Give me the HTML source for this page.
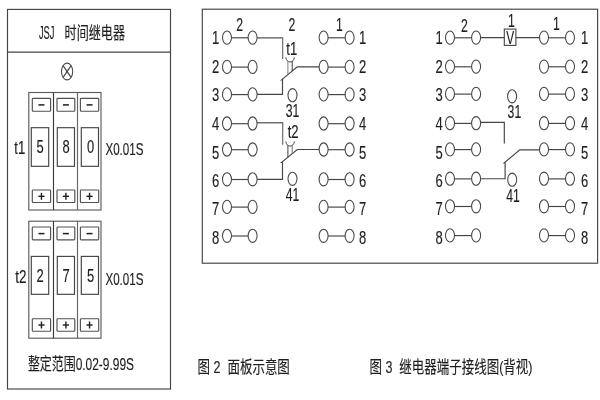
<!DOCTYPE html>
<html lang="zh-CN">
<head>
<meta charset="utf-8">
<title>JSJ 时间继电器</title>
<style>
html,body{margin:0;padding:0;background:#fff;}
body{width:600px;height:400px;overflow:hidden;}
svg{display:block;will-change:transform;}
svg text{font-family:"Liberation Sans","Noto Sans CJK SC",sans-serif;fill:#1e1e1e;stroke:#1e1e1e;stroke-width:0.15px;white-space:pre;}
</style>
</head>
<body>
<svg width="600" height="400" viewBox="0 0 600 400" role="img" aria-label="JSJ 时间继电器 面板示意图 / 继电器端子接线图">
<rect x="0" y="0" width="600" height="400" fill="#fff"/>
<rect x="7.5" y="9.4" width="163" height="379.6" fill="none" stroke="#444" stroke-width="1.15"/>
<line x1="7.5" y1="52.1" x2="170.5" y2="52.1" stroke="#444" stroke-width="1.15"/>
<text transform="translate(38.9 38.8) scale(0.535 1)" font-size="17.5">JSJ</text>
<text transform="translate(64.6 39.2) scale(0.733 1)" font-size="16.5">时间继电器</text>
<ellipse cx="67.1" cy="71.5" rx="5.6" ry="8.4" fill="#fff" stroke="#484848" stroke-width="1.08"/>
<line x1="63.1" y1="65.6" x2="71.1" y2="77.4" stroke="#444" stroke-width="1.15"/>
<line x1="71.1" y1="65.6" x2="63.1" y2="77.4" stroke="#444" stroke-width="1.15"/>
<rect x="28.8" y="92.5" width="72.2" height="117.5" fill="none" stroke="#5c5c5c" stroke-width="1.15"/>
<line x1="53.5" y1="92.5" x2="53.5" y2="210" stroke="#3a3a3a" stroke-width="1.15"/>
<line x1="77.5" y1="92.5" x2="77.5" y2="210" stroke="#666" stroke-width="1.15"/>
<rect x="32.3" y="98.3" width="18.3" height="12.9" rx="0.8" fill="none" stroke="#505050" stroke-width="1.15"/>
<line x1="38.45" y1="104.9" x2="44.45" y2="104.9" stroke="#1e1e1e" stroke-width="1.5"/>
<rect x="31.3" y="127.7" width="17.4" height="38.6" fill="none" stroke="#444" stroke-width="1.15"/>
<text transform="translate(40.2 153.3) scale(0.72 1)" font-size="18" text-anchor="middle">5</text>
<rect x="32.3" y="190" width="18.3" height="12.5" rx="0.8" fill="none" stroke="#505050" stroke-width="1.15"/>
<line x1="38.35" y1="196.3" x2="44.55" y2="196.3" stroke="#1e1e1e" stroke-width="1.4"/>
<line x1="41.45" y1="192.8" x2="41.45" y2="199.8" stroke="#1e1e1e" stroke-width="1.4"/>
<rect x="57" y="98.3" width="17.8" height="12.9" rx="0.8" fill="none" stroke="#505050" stroke-width="1.15"/>
<line x1="62.9" y1="104.9" x2="68.9" y2="104.9" stroke="#1e1e1e" stroke-width="1.5"/>
<rect x="57.3" y="127.7" width="17.2" height="38.6" fill="none" stroke="#444" stroke-width="1.15"/>
<text transform="translate(66.1 153.3) scale(0.72 1)" font-size="18" text-anchor="middle">8</text>
<rect x="57" y="190" width="17.8" height="12.5" rx="0.8" fill="none" stroke="#505050" stroke-width="1.15"/>
<line x1="62.8" y1="196.3" x2="69" y2="196.3" stroke="#1e1e1e" stroke-width="1.4"/>
<line x1="65.9" y1="192.8" x2="65.9" y2="199.8" stroke="#1e1e1e" stroke-width="1.4"/>
<rect x="80.4" y="98.3" width="18.3" height="12.9" rx="0.8" fill="none" stroke="#505050" stroke-width="1.15"/>
<line x1="86.55" y1="104.9" x2="92.55" y2="104.9" stroke="#1e1e1e" stroke-width="1.5"/>
<rect x="81.3" y="127.7" width="17.2" height="38.6" fill="none" stroke="#444" stroke-width="1.15"/>
<text transform="translate(90.6 153.3) scale(0.72 1)" font-size="18" text-anchor="middle">0</text>
<rect x="80.4" y="190" width="18.3" height="12.5" rx="0.8" fill="none" stroke="#505050" stroke-width="1.15"/>
<line x1="86.45" y1="196.3" x2="92.65" y2="196.3" stroke="#1e1e1e" stroke-width="1.4"/>
<line x1="89.55" y1="192.8" x2="89.55" y2="199.8" stroke="#1e1e1e" stroke-width="1.4"/>
<text transform="translate(14.3 153.9) scale(0.75 1)" font-size="17.5">t1</text>
<text transform="translate(105.4 155.1) scale(0.703 1)" font-size="16.5">X0.01S</text>
<rect x="28.8" y="221.2" width="72.2" height="117" fill="none" stroke="#5c5c5c" stroke-width="1.15"/>
<line x1="53.5" y1="221.2" x2="53.5" y2="338.2" stroke="#3a3a3a" stroke-width="1.15"/>
<line x1="77.5" y1="221.2" x2="77.5" y2="338.2" stroke="#666" stroke-width="1.15"/>
<rect x="32.3" y="227" width="18.3" height="12.9" rx="0.8" fill="none" stroke="#505050" stroke-width="1.15"/>
<line x1="38.45" y1="233.6" x2="44.45" y2="233.6" stroke="#1e1e1e" stroke-width="1.5"/>
<rect x="31.3" y="256.4" width="17.4" height="37.9" fill="none" stroke="#444" stroke-width="1.15"/>
<text transform="translate(40.2 281.5) scale(0.72 1)" font-size="18" text-anchor="middle">2</text>
<rect x="32.3" y="318.7" width="18.3" height="12.5" rx="0.8" fill="none" stroke="#505050" stroke-width="1.15"/>
<line x1="38.35" y1="325" x2="44.55" y2="325" stroke="#1e1e1e" stroke-width="1.4"/>
<line x1="41.45" y1="321.5" x2="41.45" y2="328.5" stroke="#1e1e1e" stroke-width="1.4"/>
<rect x="57" y="227" width="17.8" height="12.9" rx="0.8" fill="none" stroke="#505050" stroke-width="1.15"/>
<line x1="62.9" y1="233.6" x2="68.9" y2="233.6" stroke="#1e1e1e" stroke-width="1.5"/>
<rect x="57.3" y="256.4" width="17.2" height="37.9" fill="none" stroke="#444" stroke-width="1.15"/>
<text transform="translate(66.1 281.5) scale(0.72 1)" font-size="18" text-anchor="middle">7</text>
<rect x="57" y="318.7" width="17.8" height="12.5" rx="0.8" fill="none" stroke="#505050" stroke-width="1.15"/>
<line x1="62.8" y1="325" x2="69" y2="325" stroke="#1e1e1e" stroke-width="1.4"/>
<line x1="65.9" y1="321.5" x2="65.9" y2="328.5" stroke="#1e1e1e" stroke-width="1.4"/>
<rect x="80.4" y="227" width="18.3" height="12.9" rx="0.8" fill="none" stroke="#505050" stroke-width="1.15"/>
<line x1="86.55" y1="233.6" x2="92.55" y2="233.6" stroke="#1e1e1e" stroke-width="1.5"/>
<rect x="81.3" y="256.4" width="17.2" height="37.9" fill="none" stroke="#444" stroke-width="1.15"/>
<text transform="translate(90.6 281.5) scale(0.72 1)" font-size="18" text-anchor="middle">5</text>
<rect x="80.4" y="318.7" width="18.3" height="12.5" rx="0.8" fill="none" stroke="#505050" stroke-width="1.15"/>
<line x1="86.45" y1="325" x2="92.65" y2="325" stroke="#1e1e1e" stroke-width="1.4"/>
<line x1="89.55" y1="321.5" x2="89.55" y2="328.5" stroke="#1e1e1e" stroke-width="1.4"/>
<text transform="translate(15.2 282.9) scale(0.73 1)" font-size="18.5">t2</text>
<text transform="translate(105.4 284.6) scale(0.703 1)" font-size="16.5">X0.01S</text>
<text transform="translate(27.9 369.8) scale(0.724 1)" font-size="16.5">整定范围0.02-9.99S</text>
<text transform="translate(197.6 373) scale(0.735 1)" font-size="17">图 2  面板示意图</text>
<text transform="translate(369.5 373) scale(0.735 1)" font-size="17">图 3  继电器端子接线图(背视)</text>
<rect x="202.3" y="9.2" width="395.3" height="254" fill="none" stroke="#444" stroke-width="1.15"/>
<line x1="252.6" y1="37.9" x2="283.2" y2="37.9" stroke="#444" stroke-width="1.15"/>
<line x1="282.7" y1="37.9" x2="282.7" y2="58.9" stroke="#666" stroke-width="1.15"/>
<polyline points="323.6,66.9 297.3,66.9 281.6,79.8 282.5,79.8 282.5,94.4 252.6,94.4" fill="none" stroke="#444" stroke-width="1.15"/>
<path d="M285.9 57.4 A4.2 4.6 0 0 0 294.3 57.4" fill="none" stroke="#444" stroke-width="1"/>
<line x1="287.9" y1="61.2" x2="287.9" y2="74.7" stroke="#808080" stroke-width="1"/>
<line x1="292.2" y1="61.2" x2="292.2" y2="71.1" stroke="#3a3a3a" stroke-width="1"/>
<text transform="translate(291.8 54.8) scale(0.71 1)" font-size="18.5" text-anchor="middle">t1</text>
<line x1="252.6" y1="122.8" x2="283.2" y2="122.8" stroke="#444" stroke-width="1.15"/>
<line x1="282.7" y1="122.8" x2="282.7" y2="144.8" stroke="#666" stroke-width="1.15"/>
<polyline points="323.6,149.5 297.3,149.5 281.6,162.4 282.5,162.4 282.5,179.3 252.6,179.3" fill="none" stroke="#444" stroke-width="1.15"/>
<path d="M285.9 141.5 A4.2 4.6 0 0 0 294.3 141.5" fill="none" stroke="#444" stroke-width="1"/>
<line x1="287.9" y1="145.3" x2="287.9" y2="157.3" stroke="#444" stroke-width="1"/>
<line x1="292.2" y1="145.3" x2="292.2" y2="153.7" stroke="#707070" stroke-width="1"/>
<text transform="translate(293.2 137.9) scale(0.71 1)" font-size="18.5" text-anchor="middle">t2</text>
<line x1="227" y1="37.8" x2="252.6" y2="37.8" stroke="#444" stroke-width="1.15"/>
<line x1="323.6" y1="37.8" x2="349.6" y2="37.8" stroke="#444" stroke-width="1.15"/>
<ellipse cx="227" cy="37.6" rx="4.5" ry="6.6" fill="#fff" stroke="#484848" stroke-width="1.08"/>
<ellipse cx="252.6" cy="37.6" rx="4.5" ry="6.6" fill="#fff" stroke="#484848" stroke-width="1.08"/>
<ellipse cx="323.6" cy="37.6" rx="4.5" ry="6.6" fill="#fff" stroke="#484848" stroke-width="1.08"/>
<ellipse cx="349.6" cy="37.6" rx="4.5" ry="6.6" fill="#fff" stroke="#484848" stroke-width="1.08"/>
<text transform="translate(215.5 44.3) scale(0.745 1)" font-size="17.5" text-anchor="middle">1</text>
<text transform="translate(362.7 44.3) scale(0.745 1)" font-size="17.5" text-anchor="middle">1</text>
<line x1="227" y1="67.1" x2="252.6" y2="67.1" stroke="#444" stroke-width="1.15"/>
<line x1="323.6" y1="67.1" x2="349.6" y2="67.1" stroke="#444" stroke-width="1.15"/>
<ellipse cx="227" cy="66.9" rx="4.5" ry="6.6" fill="#fff" stroke="#484848" stroke-width="1.08"/>
<ellipse cx="252.6" cy="66.9" rx="4.5" ry="6.6" fill="#fff" stroke="#484848" stroke-width="1.08"/>
<ellipse cx="323.6" cy="66.9" rx="4.5" ry="6.6" fill="#fff" stroke="#484848" stroke-width="1.08"/>
<ellipse cx="349.6" cy="66.9" rx="4.5" ry="6.6" fill="#fff" stroke="#484848" stroke-width="1.08"/>
<text transform="translate(215.5 72.8) scale(0.745 1)" font-size="17.5" text-anchor="middle">2</text>
<text transform="translate(362.7 72.8) scale(0.745 1)" font-size="17.5" text-anchor="middle">2</text>
<line x1="227" y1="94.6" x2="252.6" y2="94.6" stroke="#444" stroke-width="1.15"/>
<line x1="323.6" y1="94.6" x2="349.6" y2="94.6" stroke="#444" stroke-width="1.15"/>
<ellipse cx="227" cy="94.4" rx="4.5" ry="6.6" fill="#fff" stroke="#484848" stroke-width="1.08"/>
<ellipse cx="252.6" cy="94.4" rx="4.5" ry="6.6" fill="#fff" stroke="#484848" stroke-width="1.08"/>
<ellipse cx="323.6" cy="94.4" rx="4.5" ry="6.6" fill="#fff" stroke="#484848" stroke-width="1.08"/>
<ellipse cx="349.6" cy="94.4" rx="4.5" ry="6.6" fill="#fff" stroke="#484848" stroke-width="1.08"/>
<text transform="translate(215.5 101.3) scale(0.745 1)" font-size="17.5" text-anchor="middle">3</text>
<text transform="translate(362.7 101.3) scale(0.745 1)" font-size="17.5" text-anchor="middle">3</text>
<line x1="227" y1="123.7" x2="252.6" y2="123.7" stroke="#444" stroke-width="1.15"/>
<line x1="323.6" y1="123.7" x2="349.6" y2="123.7" stroke="#444" stroke-width="1.15"/>
<ellipse cx="227" cy="123.5" rx="4.5" ry="6.6" fill="#fff" stroke="#484848" stroke-width="1.08"/>
<ellipse cx="252.6" cy="123.5" rx="4.5" ry="6.6" fill="#fff" stroke="#484848" stroke-width="1.08"/>
<ellipse cx="323.6" cy="123.5" rx="4.5" ry="6.6" fill="#fff" stroke="#484848" stroke-width="1.08"/>
<ellipse cx="349.6" cy="123.5" rx="4.5" ry="6.6" fill="#fff" stroke="#484848" stroke-width="1.08"/>
<text transform="translate(215.5 129.8) scale(0.745 1)" font-size="17.5" text-anchor="middle">4</text>
<text transform="translate(362.7 129.8) scale(0.745 1)" font-size="17.5" text-anchor="middle">4</text>
<line x1="227" y1="149.7" x2="252.6" y2="149.7" stroke="#444" stroke-width="1.15"/>
<line x1="323.6" y1="149.7" x2="349.6" y2="149.7" stroke="#444" stroke-width="1.15"/>
<ellipse cx="227" cy="149.5" rx="4.5" ry="6.6" fill="#fff" stroke="#484848" stroke-width="1.08"/>
<ellipse cx="252.6" cy="149.5" rx="4.5" ry="6.6" fill="#fff" stroke="#484848" stroke-width="1.08"/>
<ellipse cx="323.6" cy="149.5" rx="4.5" ry="6.6" fill="#fff" stroke="#484848" stroke-width="1.08"/>
<ellipse cx="349.6" cy="149.5" rx="4.5" ry="6.6" fill="#fff" stroke="#484848" stroke-width="1.08"/>
<text transform="translate(215.5 158.7) scale(0.745 1)" font-size="17.5" text-anchor="middle">5</text>
<text transform="translate(362.7 158.7) scale(0.745 1)" font-size="17.5" text-anchor="middle">5</text>
<line x1="227" y1="179.5" x2="252.6" y2="179.5" stroke="#444" stroke-width="1.15"/>
<line x1="323.6" y1="179.5" x2="349.6" y2="179.5" stroke="#444" stroke-width="1.15"/>
<ellipse cx="227" cy="179.3" rx="4.5" ry="6.6" fill="#fff" stroke="#484848" stroke-width="1.08"/>
<ellipse cx="252.6" cy="179.3" rx="4.5" ry="6.6" fill="#fff" stroke="#484848" stroke-width="1.08"/>
<ellipse cx="323.6" cy="179.3" rx="4.5" ry="6.6" fill="#fff" stroke="#484848" stroke-width="1.08"/>
<ellipse cx="349.6" cy="179.3" rx="4.5" ry="6.6" fill="#fff" stroke="#484848" stroke-width="1.08"/>
<text transform="translate(215.5 187.1) scale(0.745 1)" font-size="17.5" text-anchor="middle">6</text>
<text transform="translate(362.7 187.1) scale(0.745 1)" font-size="17.5" text-anchor="middle">6</text>
<line x1="227" y1="207.1" x2="252.6" y2="207.1" stroke="#444" stroke-width="1.15"/>
<line x1="323.6" y1="207.1" x2="349.6" y2="207.1" stroke="#444" stroke-width="1.15"/>
<ellipse cx="227" cy="206.9" rx="4.5" ry="6.6" fill="#fff" stroke="#484848" stroke-width="1.08"/>
<ellipse cx="252.6" cy="206.9" rx="4.5" ry="6.6" fill="#fff" stroke="#484848" stroke-width="1.08"/>
<ellipse cx="323.6" cy="206.9" rx="4.5" ry="6.6" fill="#fff" stroke="#484848" stroke-width="1.08"/>
<ellipse cx="349.6" cy="206.9" rx="4.5" ry="6.6" fill="#fff" stroke="#484848" stroke-width="1.08"/>
<text transform="translate(215.5 215.4) scale(0.745 1)" font-size="17.5" text-anchor="middle">7</text>
<text transform="translate(362.7 215.4) scale(0.745 1)" font-size="17.5" text-anchor="middle">7</text>
<line x1="227" y1="236" x2="252.6" y2="236" stroke="#444" stroke-width="1.15"/>
<line x1="323.6" y1="236" x2="349.6" y2="236" stroke="#444" stroke-width="1.15"/>
<ellipse cx="227" cy="235.8" rx="4.5" ry="6.6" fill="#fff" stroke="#484848" stroke-width="1.08"/>
<ellipse cx="252.6" cy="235.8" rx="4.5" ry="6.6" fill="#fff" stroke="#484848" stroke-width="1.08"/>
<ellipse cx="323.6" cy="235.8" rx="4.5" ry="6.6" fill="#fff" stroke="#484848" stroke-width="1.08"/>
<ellipse cx="349.6" cy="235.8" rx="4.5" ry="6.6" fill="#fff" stroke="#484848" stroke-width="1.08"/>
<text transform="translate(215.5 243.9) scale(0.745 1)" font-size="17.5" text-anchor="middle">8</text>
<text transform="translate(362.7 243.9) scale(0.745 1)" font-size="17.5" text-anchor="middle">8</text>
<ellipse cx="292.5" cy="95.2" rx="4.5" ry="6.6" fill="#fff" stroke="#484848" stroke-width="1.08"/>
<text transform="translate(292.6 116.6) scale(0.7 1)" font-size="17.5" text-anchor="middle">31</text>
<ellipse cx="292.5" cy="178.8" rx="4.5" ry="6.6" fill="#fff" stroke="#484848" stroke-width="1.08"/>
<text transform="translate(292.6 201) scale(0.7 1)" font-size="17.5" text-anchor="middle">41</text>
<text transform="translate(239.6 31) scale(0.7 1)" font-size="17.5" text-anchor="middle">2</text>
<text transform="translate(292 31) scale(0.7 1)" font-size="17.5" text-anchor="middle">2</text>
<text transform="translate(339.4 31) scale(0.7 1)" font-size="17.5" text-anchor="middle">1</text>
<line x1="476" y1="37.6" x2="544" y2="37.6" stroke="#444" stroke-width="1.15"/>
<polyline points="476,122.3 504.3,122.3 504.3,143.6" fill="none" stroke="#444" stroke-width="1.15"/>
<polyline points="544,149.9 519.8,149.9 504.2,162.8 505.1,162.8 505.1,178.7 476,178.7" fill="none" stroke="#444" stroke-width="1.15"/>
<line x1="450" y1="37.8" x2="476.1" y2="37.8" stroke="#444" stroke-width="1.15"/>
<line x1="544" y1="37.8" x2="570" y2="37.8" stroke="#444" stroke-width="1.15"/>
<ellipse cx="450" cy="37.6" rx="4.5" ry="6.6" fill="#fff" stroke="#484848" stroke-width="1.08"/>
<ellipse cx="476.1" cy="37.6" rx="4.5" ry="6.6" fill="#fff" stroke="#484848" stroke-width="1.08"/>
<ellipse cx="544" cy="37.6" rx="4.5" ry="6.6" fill="#fff" stroke="#484848" stroke-width="1.08"/>
<ellipse cx="570" cy="37.6" rx="4.5" ry="6.6" fill="#fff" stroke="#484848" stroke-width="1.08"/>
<text transform="translate(439.2 44.3) scale(0.745 1)" font-size="17.5" text-anchor="middle">1</text>
<text transform="translate(584.5 44.3) scale(0.745 1)" font-size="17.5" text-anchor="middle">1</text>
<line x1="450" y1="66.8" x2="476.1" y2="66.8" stroke="#444" stroke-width="1.15"/>
<line x1="544" y1="66.8" x2="570" y2="66.8" stroke="#444" stroke-width="1.15"/>
<ellipse cx="450" cy="66.6" rx="4.5" ry="6.6" fill="#fff" stroke="#484848" stroke-width="1.08"/>
<ellipse cx="476.1" cy="66.6" rx="4.5" ry="6.6" fill="#fff" stroke="#484848" stroke-width="1.08"/>
<ellipse cx="544" cy="66.6" rx="4.5" ry="6.6" fill="#fff" stroke="#484848" stroke-width="1.08"/>
<ellipse cx="570" cy="66.6" rx="4.5" ry="6.6" fill="#fff" stroke="#484848" stroke-width="1.08"/>
<text transform="translate(439.2 72.8) scale(0.745 1)" font-size="17.5" text-anchor="middle">2</text>
<text transform="translate(584.5 72.8) scale(0.745 1)" font-size="17.5" text-anchor="middle">2</text>
<line x1="450" y1="94.1" x2="476.1" y2="94.1" stroke="#444" stroke-width="1.15"/>
<line x1="544" y1="94.1" x2="570" y2="94.1" stroke="#444" stroke-width="1.15"/>
<ellipse cx="450" cy="93.9" rx="4.5" ry="6.6" fill="#fff" stroke="#484848" stroke-width="1.08"/>
<ellipse cx="476.1" cy="93.9" rx="4.5" ry="6.6" fill="#fff" stroke="#484848" stroke-width="1.08"/>
<ellipse cx="544" cy="93.9" rx="4.5" ry="6.6" fill="#fff" stroke="#484848" stroke-width="1.08"/>
<ellipse cx="570" cy="93.9" rx="4.5" ry="6.6" fill="#fff" stroke="#484848" stroke-width="1.08"/>
<text transform="translate(439.2 101.3) scale(0.745 1)" font-size="17.5" text-anchor="middle">3</text>
<text transform="translate(584.5 101.3) scale(0.745 1)" font-size="17.5" text-anchor="middle">3</text>
<line x1="450" y1="123.4" x2="476.1" y2="123.4" stroke="#444" stroke-width="1.15"/>
<line x1="544" y1="123.4" x2="570" y2="123.4" stroke="#444" stroke-width="1.15"/>
<ellipse cx="450" cy="123.2" rx="4.5" ry="6.6" fill="#fff" stroke="#484848" stroke-width="1.08"/>
<ellipse cx="476.1" cy="123.2" rx="4.5" ry="6.6" fill="#fff" stroke="#484848" stroke-width="1.08"/>
<ellipse cx="544" cy="123.2" rx="4.5" ry="6.6" fill="#fff" stroke="#484848" stroke-width="1.08"/>
<ellipse cx="570" cy="123.2" rx="4.5" ry="6.6" fill="#fff" stroke="#484848" stroke-width="1.08"/>
<text transform="translate(439.2 129.8) scale(0.745 1)" font-size="17.5" text-anchor="middle">4</text>
<text transform="translate(584.5 129.8) scale(0.745 1)" font-size="17.5" text-anchor="middle">4</text>
<line x1="450" y1="149.6" x2="476.1" y2="149.6" stroke="#444" stroke-width="1.15"/>
<line x1="544" y1="149.6" x2="570" y2="149.6" stroke="#444" stroke-width="1.15"/>
<ellipse cx="450" cy="149.4" rx="4.5" ry="6.6" fill="#fff" stroke="#484848" stroke-width="1.08"/>
<ellipse cx="476.1" cy="149.4" rx="4.5" ry="6.6" fill="#fff" stroke="#484848" stroke-width="1.08"/>
<ellipse cx="544" cy="149.4" rx="4.5" ry="6.6" fill="#fff" stroke="#484848" stroke-width="1.08"/>
<ellipse cx="570" cy="149.4" rx="4.5" ry="6.6" fill="#fff" stroke="#484848" stroke-width="1.08"/>
<text transform="translate(439.2 158.7) scale(0.745 1)" font-size="17.5" text-anchor="middle">5</text>
<text transform="translate(584.5 158.7) scale(0.745 1)" font-size="17.5" text-anchor="middle">5</text>
<line x1="450" y1="178.9" x2="476.1" y2="178.9" stroke="#444" stroke-width="1.15"/>
<line x1="544" y1="178.9" x2="570" y2="178.9" stroke="#444" stroke-width="1.15"/>
<ellipse cx="450" cy="178.7" rx="4.5" ry="6.6" fill="#fff" stroke="#484848" stroke-width="1.08"/>
<ellipse cx="476.1" cy="178.7" rx="4.5" ry="6.6" fill="#fff" stroke="#484848" stroke-width="1.08"/>
<ellipse cx="544" cy="178.7" rx="4.5" ry="6.6" fill="#fff" stroke="#484848" stroke-width="1.08"/>
<ellipse cx="570" cy="178.7" rx="4.5" ry="6.6" fill="#fff" stroke="#484848" stroke-width="1.08"/>
<text transform="translate(439.2 187.1) scale(0.745 1)" font-size="17.5" text-anchor="middle">6</text>
<text transform="translate(584.5 187.1) scale(0.745 1)" font-size="17.5" text-anchor="middle">6</text>
<line x1="450" y1="206.5" x2="476.1" y2="206.5" stroke="#444" stroke-width="1.15"/>
<line x1="544" y1="206.5" x2="570" y2="206.5" stroke="#444" stroke-width="1.15"/>
<ellipse cx="450" cy="206.3" rx="4.5" ry="6.6" fill="#fff" stroke="#484848" stroke-width="1.08"/>
<ellipse cx="476.1" cy="206.3" rx="4.5" ry="6.6" fill="#fff" stroke="#484848" stroke-width="1.08"/>
<ellipse cx="544" cy="206.3" rx="4.5" ry="6.6" fill="#fff" stroke="#484848" stroke-width="1.08"/>
<ellipse cx="570" cy="206.3" rx="4.5" ry="6.6" fill="#fff" stroke="#484848" stroke-width="1.08"/>
<text transform="translate(439.2 215.4) scale(0.745 1)" font-size="17.5" text-anchor="middle">7</text>
<text transform="translate(584.5 215.4) scale(0.745 1)" font-size="17.5" text-anchor="middle">7</text>
<line x1="450" y1="235.6" x2="476.1" y2="235.6" stroke="#444" stroke-width="1.15"/>
<line x1="544" y1="235.6" x2="570" y2="235.6" stroke="#444" stroke-width="1.15"/>
<ellipse cx="450" cy="235.4" rx="4.5" ry="6.6" fill="#fff" stroke="#484848" stroke-width="1.08"/>
<ellipse cx="476.1" cy="235.4" rx="4.5" ry="6.6" fill="#fff" stroke="#484848" stroke-width="1.08"/>
<ellipse cx="544" cy="235.4" rx="4.5" ry="6.6" fill="#fff" stroke="#484848" stroke-width="1.08"/>
<ellipse cx="570" cy="235.4" rx="4.5" ry="6.6" fill="#fff" stroke="#484848" stroke-width="1.08"/>
<text transform="translate(439.2 243.9) scale(0.745 1)" font-size="17.5" text-anchor="middle">8</text>
<text transform="translate(584.5 243.9) scale(0.745 1)" font-size="17.5" text-anchor="middle">8</text>
<rect x="504.3" y="29.1" width="11.6" height="16.3" fill="#fff" stroke="#444" stroke-width="1.1"/>
<text transform="translate(510.2 44.2) scale(0.66 1)" font-size="18" text-anchor="middle">V</text>
<ellipse cx="512.1" cy="96.3" rx="4.5" ry="6.6" fill="#fff" stroke="#484848" stroke-width="1.08"/>
<text transform="translate(514.4 117.6) scale(0.7 1)" font-size="17.5" text-anchor="middle">31</text>
<ellipse cx="512.2" cy="179.7" rx="4.5" ry="6.6" fill="#fff" stroke="#484848" stroke-width="1.08"/>
<text transform="translate(513 201.8) scale(0.7 1)" font-size="17.5" text-anchor="middle">41</text>
<text transform="translate(464.5 31.6) scale(0.7 1)" font-size="17.5" text-anchor="middle">2</text>
<text transform="translate(511.5 26.8) scale(0.7 1)" font-size="17.5" text-anchor="middle">1</text>
<text transform="translate(556.4 30.3) scale(0.7 1)" font-size="17.5" text-anchor="middle">1</text>
</svg>
</body>
</html>
